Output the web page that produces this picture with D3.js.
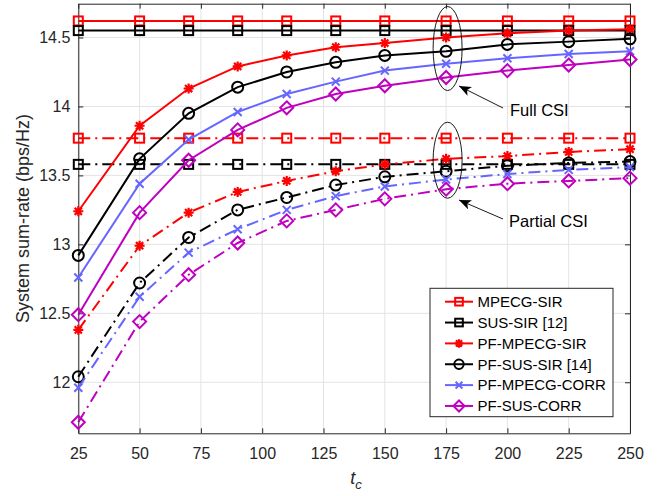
<!DOCTYPE html>
<html>
<head>
<meta charset="utf-8">
<script src="https://cdn.jsdelivr.net/npm/d3@7.9.0/dist/d3.min.js"></script>
<style>
  body { margin: 0; background: #fff; }
  svg { display: block; font-family: "Liberation Sans", Arial, sans-serif; }
</style>
</head>
<body>
<script>
// ** Data **
const tc = [25, 50, 70, 90, 110, 130, 150, 175, 200, 225, 250];
const xTicks = [25, 50, 75, 100, 125, 150, 175, 200, 225, 250];
const yTicks = [12, 12.5, 13, 13.5, 14, 14.5];

// full CSI
const mpecgSirFull    = [14.62, 14.62, 14.62, 14.62, 14.62, 14.62, 14.62, 14.62, 14.62, 14.62, 14.62];
const susSirFull      = [14.55, 14.55, 14.55, 14.55, 14.55, 14.55, 14.55, 14.55, 14.55, 14.55, 14.55];
const pfMpecgSirFull  = [13.24, 13.86, 14.13, 14.29, 14.37, 14.43, 14.46, 14.50, 14.53, 14.55, 14.56];
const pfSusSirFull    = [12.92, 13.62, 13.95, 14.14, 14.25, 14.32, 14.37, 14.40, 14.45, 14.47, 14.49];
const pfMpecgCorrFull = [12.76, 13.44, 13.76, 13.96, 14.09, 14.18, 14.26, 14.31, 14.35, 14.38, 14.40];
const pfSusCorrFull   = [12.49, 13.23, 13.61, 13.83, 13.99, 14.09, 14.15, 14.21, 14.26, 14.30, 14.34];

// partial CSI
const mpecgSirPart    = [13.77, 13.77, 13.77, 13.77, 13.77, 13.77, 13.77, 13.77, 13.77, 13.77, 13.77];
const susSirPart      = [13.58, 13.58, 13.58, 13.58, 13.58, 13.58, 13.58, 13.58, 13.58, 13.58, 13.58];
const pfMpecgSirPart  = [12.38, 12.99, 13.23, 13.38, 13.46, 13.53, 13.58, 13.62, 13.64, 13.67, 13.69];
const pfSusSirPart    = [12.04, 12.72, 13.05, 13.25, 13.34, 13.43, 13.49, 13.53, 13.57, 13.59, 13.60];
const pfMpecgCorrPart = [11.96, 12.62, 12.94, 13.11, 13.25, 13.35, 13.42, 13.47, 13.51, 13.54, 13.56];
const pfSusCorrPart   = [11.71, 12.44, 12.78, 13.01, 13.17, 13.25, 13.33, 13.40, 13.44, 13.46, 13.48];

const series = [
    { name: "MPECG-SIR",       color: "#ff0000", marker: "square",  full: mpecgSirFull,    part: mpecgSirPart },
    { name: "SUS-SIR [12]",    color: "#000000", marker: "square",  full: susSirFull,      part: susSirPart },
    { name: "PF-MPECG-SIR",    color: "#ff0000", marker: "star",    full: pfMpecgSirFull,  part: pfMpecgSirPart },
    { name: "PF-SUS-SIR [14]", color: "#000000", marker: "circle",  full: pfSusSirFull,    part: pfSusSirPart },
    { name: "PF-MPECG-CORR",   color: "#6666ff", marker: "x",       full: pfMpecgCorrFull, part: pfMpecgCorrPart },
    { name: "PF-SUS-CORR",     color: "#bf00bf", marker: "diamond", full: pfSusCorrFull,   part: pfSusCorrPart }
];

// ** SVG Setup **
const width = 658, height = 496;
const margin = { left: 78.3, right: 28, top: 3.7, bottom: 62.7 };
const svg = d3.select("body").append("svg")
    .attr("width", width)
    .attr("height", height);

const x = d3.scaleLinear().domain([25, 250]).range([margin.left, width - margin.right]);
const y = d3.scaleLinear().domain([11.63, 14.745]).range([height - margin.bottom, margin.top]);

const axisColor = "#262626";
const tickFont = "16px";

// grid
svg.append("g").selectAll("line.gx").data(xTicks).enter().append("line")
    .attr("x1", d => x(d)).attr("x2", d => x(d))
    .attr("y1", y.range()[0]).attr("y2", y.range()[1])
    .attr("stroke", "#e3e3e3").attr("stroke-width", 1);
svg.append("g").selectAll("line.gy").data(yTicks).enter().append("line")
    .attr("x1", x.range()[0]).attr("x2", x.range()[1])
    .attr("y1", d => y(d)).attr("y2", d => y(d))
    .attr("stroke", "#e3e3e3").attr("stroke-width", 1);

// axes (ticks inward, box all around)
const tickLen = 5;
const xAxisB = d3.axisBottom(x).tickValues(xTicks).tickSizeInner(-tickLen).tickSizeOuter(0).tickPadding(14);
const xAxisT = d3.axisTop(x).tickValues(xTicks).tickSizeInner(-tickLen).tickSizeOuter(0).tickFormat("");
const yAxisL = d3.axisLeft(y).tickValues(yTicks).tickSizeInner(-tickLen).tickSizeOuter(0).tickPadding(8).tickFormat(d3.format("~g"));
const yAxisR = d3.axisRight(y).tickValues(yTicks).tickSizeInner(-tickLen).tickSizeOuter(0).tickFormat("");

function styleAxis(g) {
    g.selectAll("path").attr("stroke", axisColor);
    g.selectAll("line").attr("stroke", axisColor);
    g.selectAll("text").attr("fill", axisColor).style("font-size", tickFont).style("font-family", "Liberation Sans, Arial, sans-serif");
}
svg.append("g").attr("transform", `translate(0,${y.range()[0]})`).call(xAxisB).call(styleAxis);
svg.append("g").attr("transform", `translate(0,${y.range()[1]})`).call(xAxisT).call(styleAxis);
svg.append("g").attr("transform", `translate(${x.range()[0]},0)`).call(yAxisL).call(styleAxis);
svg.append("g").attr("transform", `translate(${x.range()[1]},0)`).call(yAxisR).call(styleAxis);

// ** Markers **
function drawMarker(g, type, cx, cy, color, s) {
    s = s || 1;
    if (type === "square") {
        g.append("rect").attr("x", cx - 4.5 * s).attr("y", cy - 4.5 * s)
            .attr("width", 9 * s).attr("height", 9 * s)
            .attr("fill", "none").attr("stroke", color).attr("stroke-width", 2);
    } else if (type === "circle") {
        g.append("circle").attr("cx", cx).attr("cy", cy).attr("r", 5.5 * s)
            .attr("fill", "none").attr("stroke", color).attr("stroke-width", 2);
    } else if (type === "diamond") {
        const r = 6.5 * s;
        g.append("path").attr("d", `M${cx},${cy - r}L${cx + r},${cy}L${cx},${cy + r}L${cx - r},${cy}Z`)
            .attr("fill", "none").attr("stroke", color).attr("stroke-width", 2);
    } else if (type === "x") {
        const r = 4 * s;
        g.append("path").attr("d", `M${cx - r},${cy - r}L${cx + r},${cy + r}M${cx - r},${cy + r}L${cx + r},${cy - r}`)
            .attr("stroke", color).attr("stroke-width", 2);
    } else if (type === "star") {
        const r = 5 * s, q = 3.6 * s;
        g.append("path").attr("d",
            `M${cx - r},${cy}L${cx + r},${cy}M${cx},${cy - r}L${cx},${cy + r}` +
            `M${cx - q},${cy - q}L${cx + q},${cy + q}M${cx - q},${cy + q}L${cx + q},${cy - q}`)
            .attr("stroke", color).attr("stroke-width", 2.2);
    }
}

const line = d3.line().x(d => x(d[0])).y(d => y(d[1]));
const dashDot = "12,5,2,5";
const plot = svg.append("g");

series.forEach(s => {
    [["full", null], ["part", dashDot]].forEach(([key, dash]) => {
        const pts = tc.map((t, i) => [t, s[key][i]]);
        plot.append("path").datum(pts)
            .attr("d", line)
            .attr("fill", "none")
            .attr("stroke", s.color)
            .attr("stroke-width", 2)
            .attr("stroke-dasharray", dash);
        pts.forEach(p => drawMarker(plot, s.marker, x(p[0]), y(p[1]), s.color));
    });
});

// ** Annotations **
const annFont = "16.5px";
const ellX = x(175) + 1.5;
svg.append("ellipse").attr("cx", ellX).attr("cy", y(14.42)).attr("rx", 14.5).attr("ry", 42)
    .attr("fill", "none").attr("stroke", "#000").attr("stroke-width", 0.9);
svg.append("ellipse").attr("cx", ellX).attr("cy", y(13.61)).attr("rx", 14.5).attr("ry", 38)
    .attr("fill", "none").attr("stroke", "#000").attr("stroke-width", 0.9);

svg.append("defs").append("marker")
    .attr("id", "arrowhead")
    .attr("viewBox", "0 0 12 10")
    .attr("refX", 12).attr("refY", 5)
    .attr("markerWidth", 12).attr("markerHeight", 10)
    .attr("markerUnits", "userSpaceOnUse")
    .attr("orient", "auto")
    .append("path").attr("d", "M0,0L12,5L0,10L3,5Z").attr("fill", "#000");

function arrow(x1, y1, x2, y2) {
    svg.append("line").attr("x1", x1).attr("y1", y1).attr("x2", x2).attr("y2", y2)
        .attr("stroke", "#000").attr("stroke-width", 0.9)
        .attr("marker-end", "url(#arrowhead)");
}
arrow(503, 108, 459, 86);
arrow(503, 219, 459, 200);

svg.append("text").attr("x", 510).attr("y", 116).text("Full CSI")
    .style("font-size", annFont).attr("fill", "#000");
svg.append("text").attr("x", 509).attr("y", 227).text("Partial CSI")
    .style("font-size", annFont).attr("fill", "#000");

// ** Axis labels **
svg.append("text")
    .attr("transform", `translate(29,${(y.range()[0] + y.range()[1]) / 2}) rotate(-90)`)
    .attr("text-anchor", "middle")
    .style("font-size", "18px")
    .attr("fill", axisColor)
    .text("System sum-rate (bps/Hz)");

const xl = svg.append("text")
    .attr("x", (x.range()[0] + x.range()[1]) / 2 - 4)
    .attr("y", 484)
    .style("font-size", "18px")
    .style("font-style", "italic")
    .attr("fill", axisColor);
xl.append("tspan").text("t");
xl.append("tspan").attr("dy", 5).style("font-size", "13px").text("c");

// ** Legend **
const legX = 430, legY = 288.3, legW = 183, legH = 128.4;
const leg = svg.append("g");
leg.append("rect").attr("x", legX).attr("y", legY).attr("width", legW).attr("height", legH)
    .attr("fill", "#fff").attr("stroke", axisColor).attr("stroke-width", 1);
series.forEach((s, i) => {
    const cy = legY + 13.4 + i * 20.85;
    leg.append("line").attr("x1", legX + 15).attr("x2", legX + 43).attr("y1", cy).attr("y2", cy)
        .attr("stroke", s.color).attr("stroke-width", 2);
    drawMarker(leg, s.marker, legX + 29, cy, s.color, 0.85);
    leg.append("text").attr("x", legX + 47.5).attr("y", cy + 5.3)
        .style("font-size", "15px").attr("fill", "#000").text(s.name);
});
</script>
</body>
</html>
